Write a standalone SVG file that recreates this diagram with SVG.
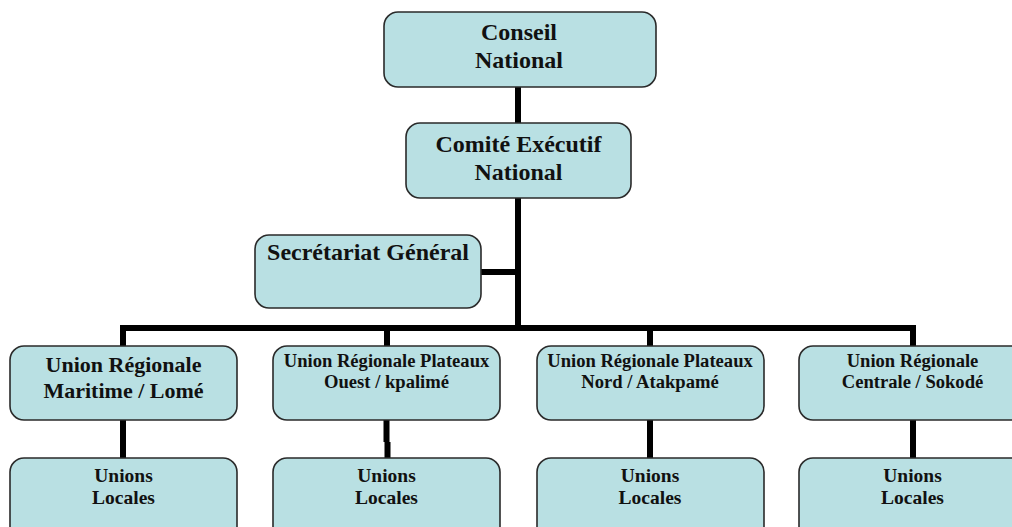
<svg xmlns="http://www.w3.org/2000/svg" width="1012" height="527" viewBox="0 0 1012 527">
<style>
.box{fill:#B9E0E3;stroke:#2a2a2a;stroke-width:1.6}
.t{font-family:"Liberation Serif","Times New Roman",serif;font-weight:bold;fill:#111;text-anchor:middle}
.big{font-size:24px}
.mid{font-size:22px}
.sm{font-size:18.6px}
.loc{font-size:19.5px}
.c{fill:none;stroke:#000;stroke-width:6;stroke-linejoin:miter;stroke-linecap:butt}
</style>
<rect width="1012" height="527" fill="#fff"/>
<g id="connectors">
<path class="c" d="M518 87V328"/>
<path class="c" d="M481 272H518"/>
<path class="c" d="M123 346V328H913V346"/>
<path class="c" d="M387 328V346"/>
<path class="c" d="M650 328V346"/>
<path class="c" d="M123 420V458"/>
<path class="c" d="M386.5 420V442M387.5 442V458"/>
<path class="c" d="M650 420V458"/>
<path class="c" d="M913 420V458"/>
</g>
<g id="conseil">
<rect class="box" x="384" y="12" width="272" height="75" rx="14"/>
<text class="t big" x="519" y="40">Conseil</text>
<text class="t big" x="519" y="68">National</text>
</g>
<g id="comite">
<rect class="box" x="406" y="123" width="225" height="75" rx="14"/>
<text class="t big" x="518.5" y="152">Comité Exécutif</text>
<text class="t big" x="518.5" y="180">National</text>
</g>
<g id="secretariat">
<rect class="box" x="255" y="235" width="226" height="73" rx="14"/>
<text class="t big" x="368" y="260">Secrétariat Général</text>
</g>
<g id="ur-maritime">
<rect class="box" x="10" y="346" width="227" height="74" rx="14"/>
<text class="t mid" x="123.5" y="372">Union Régionale</text>
<text class="t mid" x="123.5" y="398">Maritime / Lomé</text>
</g>
<g id="ur-plateaux-ouest">
<rect class="box" x="273" y="346" width="227" height="74" rx="14"/>
<text class="t sm" x="386.5" y="367">Union Régionale Plateaux</text>
<text class="t sm" x="386.5" y="388">Ouest / kpalimé</text>
</g>
<g id="ur-plateaux-nord">
<rect class="box" x="537" y="346" width="227" height="74" rx="14"/>
<text class="t sm" x="650" y="367">Union Régionale Plateaux</text>
<text class="t sm" x="650" y="388">Nord / Atakpamé</text>
</g>
<g id="ur-centrale">
<rect class="box" x="799" y="346" width="227" height="74" rx="14"/>
<text class="t sm" x="912.5" y="367">Union Régionale</text>
<text class="t sm" x="912.5" y="388">Centrale / Sokodé</text>
</g>
<g id="ul-1">
<rect class="box" x="10" y="458" width="227" height="85" rx="14"/>
<text class="t loc" x="123.5" y="482">Unions</text>
<text class="t loc" x="123.5" y="504">Locales</text>
</g>
<g id="ul-2">
<rect class="box" x="273" y="458" width="227" height="85" rx="14"/>
<text class="t loc" x="386.5" y="482">Unions</text>
<text class="t loc" x="386.5" y="504">Locales</text>
</g>
<g id="ul-3">
<rect class="box" x="537" y="458" width="227" height="85" rx="14"/>
<text class="t loc" x="650" y="482">Unions</text>
<text class="t loc" x="650" y="504">Locales</text>
</g>
<g id="ul-4">
<rect class="box" x="799" y="458" width="227" height="85" rx="14"/>
<text class="t loc" x="912.5" y="482">Unions</text>
<text class="t loc" x="912.5" y="504">Locales</text>
</g>
</svg>
